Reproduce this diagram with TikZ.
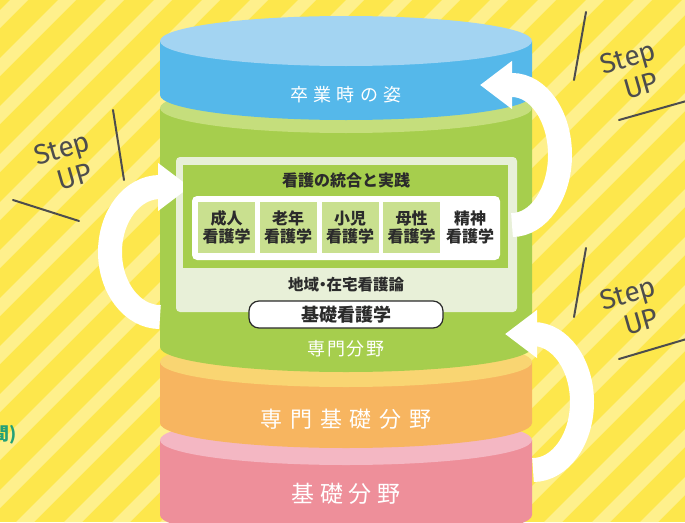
\documentclass[tikz,border=0pt]{standalone}
\usepackage{fontspec}
\newfontfamily\jp{Noto Sans CJK JP}
\newfontfamily\hand{Fira Sans}
\usetikzlibrary{arrows.meta}
\definecolor{bgyellow}{HTML}{FDE74C}
\definecolor{bgstripe}{HTML}{FEF08C}
\definecolor{bluetop}{HTML}{A3D4F2}
\definecolor{bluebody}{HTML}{55B8EA}
\definecolor{greentop}{HTML}{C5DE7C}
\definecolor{greenbody}{HTML}{A6CE4D}
\definecolor{orangetop}{HTML}{F9D572}
\definecolor{orangebody}{HTML}{F7B560}
\definecolor{pinktop}{HTML}{F4B7C3}
\definecolor{pinkbody}{HTML}{EE8F9A}
\definecolor{palepanel}{HTML}{E8F0D8}
\definecolor{cellgreen}{HTML}{C9E08F}
\definecolor{textdark}{HTML}{2B2B2B}
\definecolor{stepgray}{HTML}{4D4D4D}
\definecolor{noteteal}{HTML}{23A077}
\tikzset{
  stepup/.style={white,line width=24pt,-{Triangle[length=32pt,width=46pt]}},
  steptext/.style={text=stepgray,inner sep=0pt,align=left,font=\hand\fontsize{28}{31}\selectfont},
  hline/.style={stepgray,line width=2pt,line cap=round},
  layertext/.style={text=white,inner sep=0pt},
  cell/.style={minimum width=57pt,minimum height=51pt,inner sep=0pt,align=center,text=textdark,
    font=\jp\bfseries\fontsize{16}{18.5}\selectfont},
}
% one slice of the cylinder: top y, bottom y, light colour, body colour
\newcommand{\layer}[4]{%
  \fill[#4] (160,#1) -- (160,#2) arc[start angle=180,end angle=0,x radius=186,y radius=25] -- (532,#1) -- cycle;
  \fill[#3] (346,#1) ellipse[x radius=186,y radius=25];}
\begin{document}
\begin{tikzpicture}[x=1pt,y=-1pt]
  \useasboundingbox (0,0) rectangle (685,522);
  \clip (0,0) rectangle (685,522);
  \fill[bgyellow] (0,0) rectangle (685,522);
  \foreach \s in {-560,-512,...,700}
    \fill[bgstripe] (\s,522) -- ++(18,0) -- ++(522,-522) -- ++(-18,0) -- cycle;
  % step up marks
  \foreach \k/\x/\y in {L/66/163,T/632/72,B/632/308}
    \node[steptext,rotate=16] (step\k) at (\x,\y) {Step\\\hspace*{16pt}UP};
  \draw[hline] (113,110) -- (124,180);
  \draw[hline] (13,200) -- (79,221);
  \draw[hline] (586,12) -- (574,80);
  \draw[hline] (619,120) -- (690,100);
  \draw[hline] (586,248) -- (574,317);
  \draw[hline] (619,359) -- (690,338);
  \node[anchor=east,inner sep=0pt,text=noteteal,font=\jp\bfseries\fontsize{18}{18}\selectfont] (note) at (17,435) {間)};
  % cylinder
  \layer{440}{515}{pinktop}{pinkbody}
  \layer{362}{423}{orangetop}{orangebody}
  \layer{108}{347}{greentop}{greenbody}
  \layer{41}{95}{bluetop}{bluebody}
  \node[layertext,font=\jp\fontsize{18}{18}\selectfont\addfontfeatures{LetterSpace=30}] (goal) at (346,95) {卒業時の姿};
  \node[layertext,font=\jp\fontsize{18}{18}\selectfont\addfontfeatures{LetterSpace=10}] (senmon) at (346,349) {専門分野};
  \node[layertext,font=\jp\fontsize{22}{22}\selectfont\addfontfeatures{LetterSpace=35}] (senkiso) at (346,419) {専門基礎分野};
  \node[layertext,font=\jp\fontsize{23}{23}\selectfont\addfontfeatures{LetterSpace=25}] (kiso) at (346,494) {基礎分野};
  \fill[palepanel,rounded corners=4pt] (176,157) rectangle (517,312);
  % step up arrows
  \coordinate (upL) at (160,317);
  \coordinate (upT) at (512,225);
  \coordinate (upB) at (533,470);
  \draw[stepup] (upL) arc[start angle=90,end angle=270,x radius=50,y radius=65] -- ++(30,0);
  \draw[stepup] (upT) arc[start angle=90,end angle=-90,x radius=48,y radius=70] -- ++(-32,0);
  \draw[stepup] (upB) arc[start angle=90,end angle=-90,x radius=49,y radius=68] -- ++(-28,0);
  % contents of the green slice
  \fill[greenbody] (183,165) rectangle (508,268);
  \fill[white,rounded corners=5pt] (192,196) rectangle (500,260);
  \node[text=textdark,inner sep=0pt,font=\jp\bfseries\fontsize{16}{16}\selectfont] (togo) at (346,180) {看護の統合と実践};
  \foreach \x/\t/\c in {226.5/成人/cellgreen,288/老年/cellgreen,350/小児/cellgreen,411.5/母性/cellgreen,470/精神/white}
    \node[cell,fill=\c] (cell\t) at (\x,227.5) {\t\\看護学};
  \node[text=textdark,inner sep=0pt,font=\jp\bfseries\fontsize{15.5}{15.5}\selectfont] (chiiki) at (346,285) {地域\kern-4pt・\kern-4pt在宅看護論};
  \node[draw=textdark,line width=1.2pt,fill=white,rounded corners=10pt,minimum width=194pt,minimum height=27pt,
    inner sep=0pt,text=textdark,font=\jp\bfseries\fontsize{18}{18}\selectfont] (kango) at (346,314.5) {基礎看護学};
\end{tikzpicture}
\end{document}
